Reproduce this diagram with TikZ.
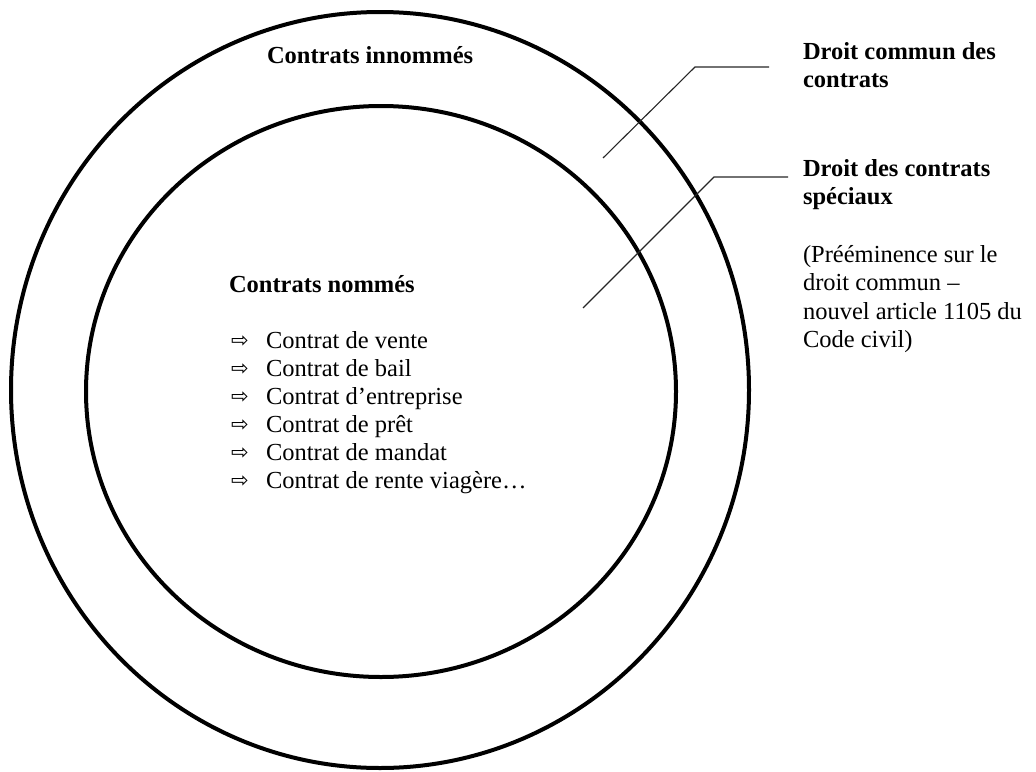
\documentclass[tikz,border=0pt]{standalone}
\usepackage{fontspec}
\setmainfont{Liberation Serif}
\newfontfamily\symfont{DejaVu Sans}
\tikzset{
  ring/.style={draw=black, line width=4pt},
  leader/.style={draw=black!85, line width=1.1pt},
  txt/.style={anchor=base west, inner sep=0pt, outer sep=0pt, font=\fontsize{24.5}{28.5}\selectfont},
  btxt/.style={txt, font=\fontsize{24.5}{28.5}\selectfont\bfseries},
  arr/.style={anchor=base west, inner sep=0pt, outer sep=0pt, font=\fontsize{21}{21}\symfont},
}
\begin{document}
\begin{tikzpicture}[x=1pt, y=-1pt]
\useasboundingbox (0,0) rectangle (1036,771);
% rings
\draw[ring] (380,390) ellipse [x radius=369pt, y radius=378pt];
\draw[ring] (381,391.5) ellipse [x radius=295pt, y radius=285.5pt];
% titles
\node[btxt] (innommes) at (267,63) {Contrats innommés};
\node[btxt] (nommes) at (229,292) {Contrats nommés};
% list
\foreach \i/\t in {0/{Contrat de vente},1/{Contrat de bail},2/{Contrat d’entreprise},3/{Contrat de prêt},4/{Contrat de mandat},5/{Contrat de rente viagère…}}{
  \node[arr] (a\i) at (231,347+28*\i) {⇨};
  \node[txt] (item\i) at (266,348+28*\i) {\t};
}
% right labels
\node[btxt] (dc1) at (803,59) {Droit commun des};
\node[btxt] (dc2) at (803,87.5) {contrats};
\node[btxt] (ds1) at (803,176) {Droit des contrats};
\node[btxt] (ds2) at (803,204.5) {spéciaux};
\node[txt] (p1) at (803,262) {(Prééminence sur le};
\node[txt] (p2) at (803,290.5) {droit commun –};
\node[txt] (p3) at (803,319) {nouvel article 1105 du};
\node[txt] (p4) at (803,347.5) {Code civil)};
% leaders
\coordinate (l1a) at (603,158);
\coordinate (l1b) at (695,67);
\coordinate (l1c) at (769,67);
\coordinate (l2a) at (583,308);
\coordinate (l2b) at (714,177);
\coordinate (l2c) at (788,177);
\draw[leader] (l1a) -- (l1b) -- (l1c);
\draw[leader] (l2a) -- (l2b) -- (l2c);
\end{tikzpicture}
\end{document}
